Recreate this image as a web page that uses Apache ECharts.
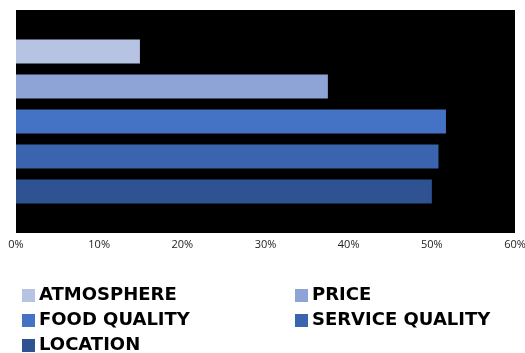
<!DOCTYPE html>
<html>
<head>
<meta charset="utf-8">
<script src="https://cdn.jsdelivr.net/npm/echarts@6/dist/echarts.min.js"></script>
<style>
  html, body { margin: 0; padding: 0; background: #fff; }
  #main { width: 525px; height: 353px; }
</style>
</head>
<body>
<div id="main"></div>
<script>
// 数据
var categories = ['ALL'];
var seriesNames = ['ATMOSPHERE', 'PRICE', 'FOOD QUALITY', 'SERVICE QUALITY', 'LOCATION'];
var seriesValues = [14.9, 37.5, 51.7, 50.8, 50.0];
var seriesColors = ['#B7C3E2', '#8FA4D6', '#4472C4', '#3B64AE', '#2F5392'];
var xTicks = [0, 10, 20, 30, 40, 50, 60];

var chart = echarts.init(document.getElementById('main'));

var series = [];
for (var i = 0; i < seriesNames.length; i++) {
  series.push({
    type: 'bar',
    name: seriesNames[i],
    data: [seriesValues[i]],
    barWidth: 24,
    barGap: '46%',
    itemStyle: { color: seriesColors[i] }
  });
}

chart.setOption({
  animation: false,
  grid: {
    left: 16, right: 10, top: 10, bottom: 120,
    outerBoundsMode: 'none',
    show: true, backgroundColor: '#000', borderWidth: 0
  },
  xAxis: {
    type: 'value',
    min: xTicks[0], max: xTicks[xTicks.length - 1], interval: 10,
    axisLine: { show: false },
    axisTick: { show: false },
    splitLine: { show: false },
    axisLabel: {
      formatter: '{value}%',
      color: '#222',
      fontFamily: 'Open Sans',
      fontSize: 11,
      margin: 6
    }
  },
  yAxis: {
    type: 'category',
    data: categories,
    inverse: true,
    axisLine: { show: false },
    axisTick: { show: false },
    axisLabel: { show: false }
  },
  legend: {
    data: seriesNames,
    left: 22, top: 283,
    padding: 0,
    width: 560,
    orient: 'horizontal',
    itemWidth: 13, itemHeight: 13,
    itemGap: 0,
    icon: 'rect',
    textStyle: {
      fontFamily: 'DejaVu Sans',
      fontWeight: 'bold',
      fontSize: 18,
      color: '#000',
      width: 256,
      lineHeight: 25,
      padding: [0, 0, 0, -1]
    }
  },
  series: series
});
</script>
</body>
</html>
